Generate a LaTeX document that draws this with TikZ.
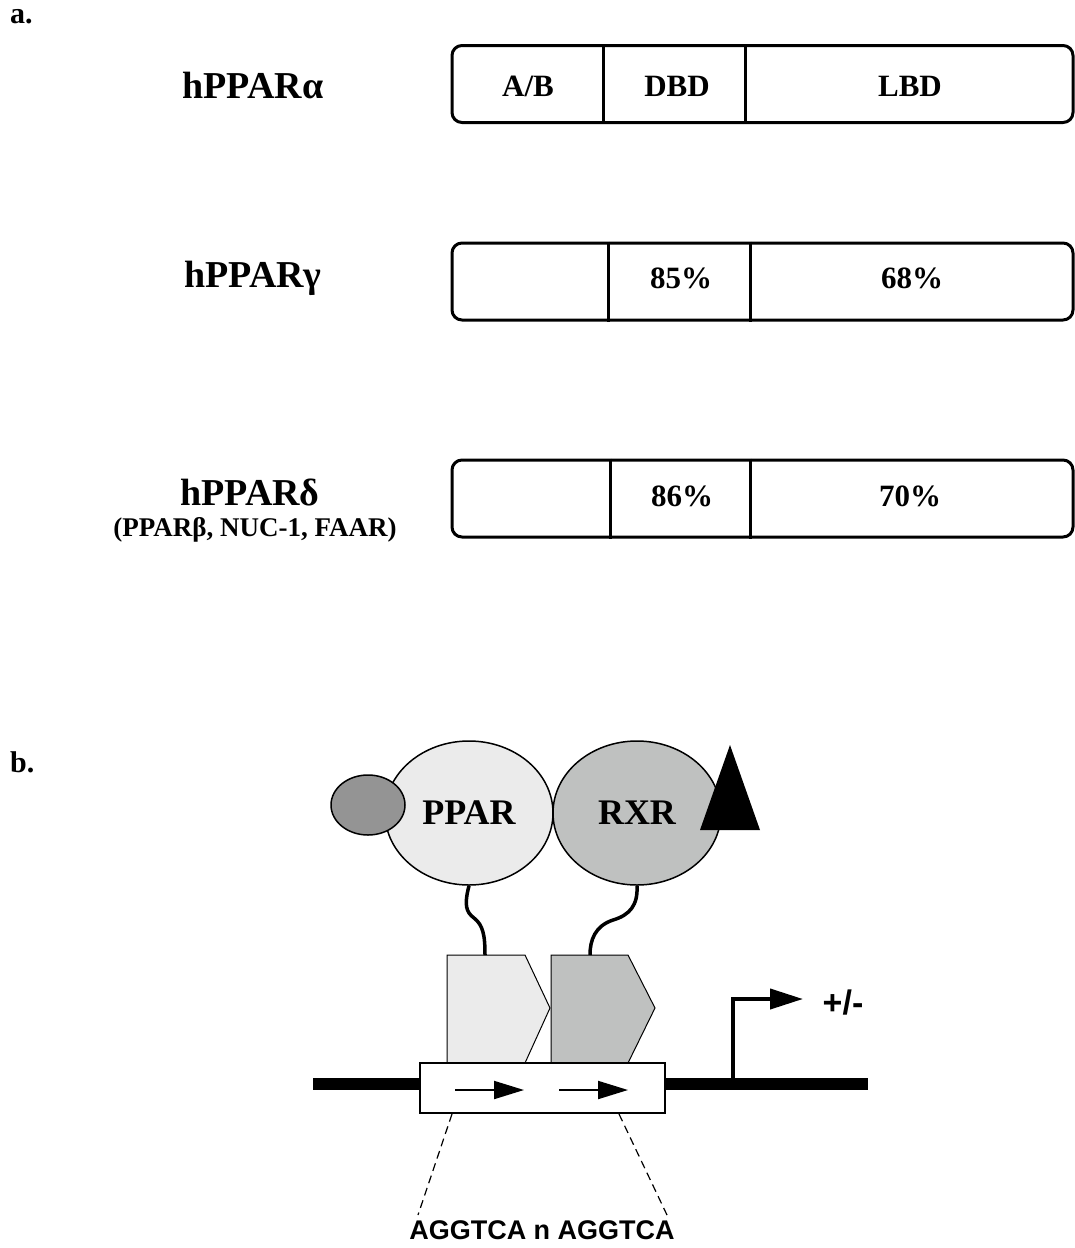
\documentclass[tikz,border=0pt]{standalone}
\usepackage{fontspec}
\setmainfont{Liberation Serif}
\newfontfamily\arialfont{Liberation Sans}
\usetikzlibrary{arrows.meta, shapes.geometric, calc}

\begin{document}
\begin{tikzpicture}[
    x=1pt, y=-1pt,
    >={Triangle[length=30pt, width=18pt]},
    domainbar/.style={rectangle, draw, line width=3pt, rounded corners=10pt, minimum width=621pt, minimum height=77pt, inner sep=0pt},
    divider/.style={line width=3.5pt},
    isoform/.style={font=\fontsize{38}{40}\selectfont\bfseries, inner sep=0pt},
    cellname/.style={font=\fontsize{31}{33}\selectfont\bfseries, inner sep=0pt},
    panel/.style={font=\fontsize{30}{32}\selectfont\bfseries, inner sep=0pt, anchor=base west},
    receptor/.style={ellipse, draw, line width=1.5pt, minimum width=168pt, minimum height=144pt, inner sep=0pt, font=\fontsize{36}{38}\selectfont\bfseries},
    bindsite/.style={draw, line width=1pt},
    dnaline/.style={line width=12pt},
    tether/.style={line width=3.5pt},
    seqtext/.style={font=\arialfont\fontsize{27}{30}\selectfont\bfseries, inner sep=0pt},
    guide/.style={dash pattern=on 8pt off 5pt, line width=1.2pt}
]
\useasboundingbox (0,0) rectangle (1075,1248);

% a. domain structure
\node[panel] (labela) at (10,23) {a.};

\node[isoform] (nalpha) at (253,85) {hPPARα};
\node[domainbar] (alpha) at (762.5,84) {};
\draw[divider] ([xshift=153pt]alpha.north west) -- ([xshift=153pt]alpha.south west);
\draw[divider] ([xshift=295pt]alpha.north west) -- ([xshift=295pt]alpha.south west);
\node[cellname] (ab) at (528,86) {A/B};
\node[cellname] (dbd) at (677,86) {DBD};
\node[cellname] (lbd) at (910,86) {LBD};

\node[isoform] (ngamma) at (253,278) {hPPARγ};
\node[domainbar] (gamma) at (762.5,281.5) {};
\draw[divider] ([xshift=158pt]gamma.north west) -- ([xshift=158pt]gamma.south west);
\draw[divider] ([xshift=300pt]gamma.north west) -- ([xshift=300pt]gamma.south west);
\node[cellname] (gdbd) at (681,278) {85\%};
\node[cellname] (glbd) at (912,278) {68\%};

\node[isoform] (ndelta) at (250,492) {hPPARδ};
\node[cellname, font=\fontsize{27}{30}\selectfont\bfseries] (ndeltab) at (255,530) {(PPARβ, NUC-1, FAAR)};
\node[domainbar] (delta) at (762.5,498.5) {};
\draw[divider] ([xshift=160pt]delta.north west) -- ([xshift=160pt]delta.south west);
\draw[divider] ([xshift=300pt]delta.north west) -- ([xshift=300pt]delta.south west);
\node[cellname] (ddbd) at (682,496) {86\%};
\node[cellname] (dlbd) at (910,496) {70\%};

% b. heterodimer on the response element
\node[panel] (labelb) at (10,772) {b.};

\node[receptor, fill=black!8] (ppar) at (469,813) {PPAR};
\node[receptor, fill={rgb,255:red,191;green,193;blue,192}] (rxr) at (637,813) {RXR};
\node[ellipse, draw, line width=1.5pt, fill=black!42, minimum width=74pt, minimum height=60pt] (ligand) at (368,805) {};
\fill (730,745) -- (760,830) -- (700,830) -- cycle;

\coordinate (pparsite) at (485,955);
\coordinate (rxrsite) at (590,955);
\draw[bindsite, fill=black!8] (447,955) -- (525,955) -- (550,1008) -- (525,1063) -- (447,1063) -- cycle;
\draw[bindsite, fill={rgb,255:red,191;green,193;blue,192}] (551,955) -- (628,955) -- (655,1008) -- (628,1063) -- (551,1063) -- cycle;

\draw[tether] (ppar.south) .. controls (464,905) and (466,912) .. (474,918) .. controls (483,925) and (485,935) .. (pparsite);
\draw[tether] (rxr.south) .. controls (638,905) and (630,915) .. (613,920) .. controls (595,926) and (590,940) .. (rxrsite);

\coordinate (dnaleft) at (313,1084);
\coordinate (dnaright) at (868,1084);
\node[rectangle, draw, line width=2pt, fill=white, minimum width=245pt, minimum height=50pt, inner sep=0pt] (hre) at (542.5,1088) {};
\draw[dnaline] (dnaleft) -- (hre.west |- dnaleft);
\draw[dnaline] (hre.east |- dnaright) -- (dnaright);

\coordinate (half1a) at (455,1090);
\coordinate (half1b) at (524,1090);
\coordinate (half2a) at (559,1090);
\coordinate (half2b) at (628,1090);
\draw[->, line width=2pt] (half1a) -- (half1b);
\draw[->, line width=2pt] (half2a) -- (half2b);

% promoter
\coordinate (tss) at (733,1084);
\coordinate (tsstop) at (733,999);
\coordinate (tssend) at (803,999);
\draw[line width=4pt, ->, >={Triangle[length=33pt, width=20pt]}] (tss) -- (tsstop) -- (tssend);
\node[seqtext, font=\arialfont\fontsize{34}{36}\selectfont\bfseries] (effect) at (843,1003) {+/-};

% consensus
\node[seqtext] (consensus) at (542,1230) {AGGTCA n AGGTCA};
\draw[guide] ([xshift=33pt]hre.south west) -- (418,1215);
\draw[guide] ([xshift=200pt]hre.south west) -- (667,1215);

\end{tikzpicture}
\end{document}
